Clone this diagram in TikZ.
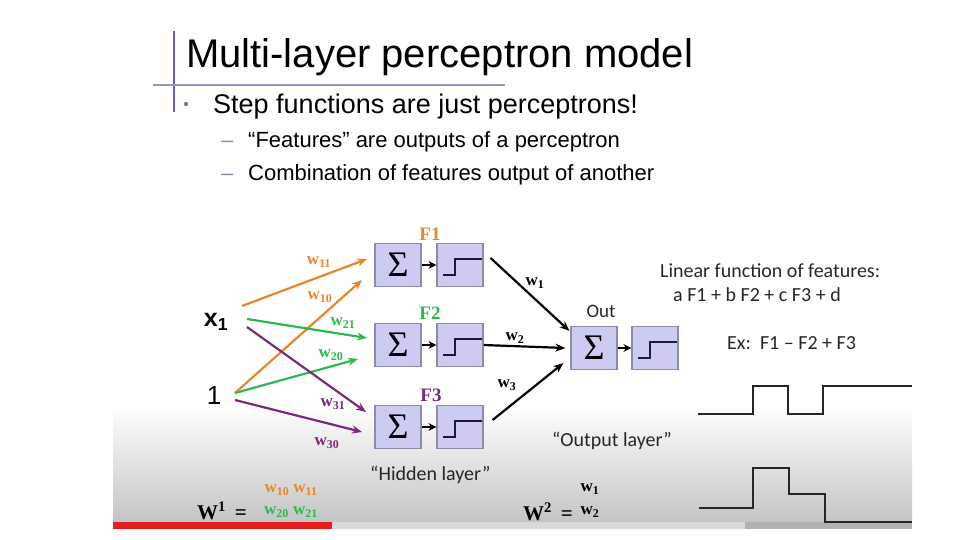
\documentclass[tikz,border=0pt]{standalone}
\usepackage{fontspec}
\setmainfont{Liberation Sans}
\newfontfamily\wf{Liberation Serif}
\newfontfamily\calfont{Carlito}
\usetikzlibrary{arrows.meta}
\definecolor{orng}{HTML}{E8862A}
\definecolor{grn}{HTML}{2DB84C}
\definecolor{prp}{HTML}{7A2A78}
\definecolor{boxfill}{HTML}{CCCCF2}
\definecolor{boxline}{HTML}{8C8CAA}
\definecolor{titleline}{HTML}{6A5CC8}
\definecolor{hline}{HTML}{9A94B8}
\definecolor{bulc}{HTML}{6680AA}
\definecolor{dashc}{HTML}{8090A8}
\definecolor{stepc}{HTML}{1A1A40}
\definecolor{barred}{HTML}{E41E1E}
\tikzset{
  box/.style={draw=boxline, fill=boxfill, line width=1.2pt, minimum width=46pt, minimum height=43pt, inner sep=0pt},
  sig/.style={box, font=\wf\fontsize{36}{36}\selectfont},
  inarrow/.style={line width=2.2pt, -{Stealth[length=10pt,width=8pt]}},
  outarrow/.style={line width=2.2pt, black, -{Stealth[length=10pt,width=8pt]}},
  linkarrow/.style={line width=2.2pt, black, -{Stealth[length=8pt,width=8pt]}},
  stepline/.style={line width=2.4pt, stepc},
  wlab/.style={font=\wf\bfseries\fontsize{17}{17}\selectfont, inner sep=0pt},
  flab/.style={font=\wf\bfseries\fontsize{19}{19}\selectfont, inner sep=0pt},
  caltxt/.style={font=\calfont\fontsize{20}{20}\selectfont, inner sep=0pt, anchor=base west, text=black!85},
  bigw/.style={font=\wf\bfseries\fontsize{21}{21}\selectfont, inner sep=0pt},
}
\begin{document}
\begin{tikzpicture}[x=1pt,y=-1pt]
\useasboundingbox (0,0) rectangle (960,540);
% video overlay band
\shade[top color=white, bottom color=black!23] (113,405) rectangle (912,522);
\fill[black!15] (332,522) rectangle (745,529);
\fill[black!30] (745,522) rectangle (912,529);
\fill[barred] (113,522) rectangle (332,529);
% title
\draw[titleline, line width=2pt] (174,31) -- (174,112);
\draw[hline, line width=2pt] (153,85) -- (505,85);
\node[anchor=base west, inner sep=0pt, font=\fontsize{40}{40}\selectfont] (title) at (186,68) {Multi-layer perceptron model};
\fill[bulc] (186,104) circle (2.2);
\node[anchor=base west, inner sep=0pt, font=\fontsize{27}{27}\selectfont] (b1) at (213,114) {Step functions are just perceptrons!};
\node[anchor=base west, inner sep=0pt, text=dashc, font=\fontsize{22}{22}\selectfont] (d1) at (221,148) {–};
\node[anchor=base west, inner sep=0pt, font=\fontsize{22}{22}\selectfont] (b2) at (248,148) {“Features” are outputs of a perceptron};
\node[anchor=base west, inner sep=0pt, text=dashc, font=\fontsize{22}{22}\selectfont] (d2) at (221,180) {–};
\node[anchor=base west, inner sep=0pt, font=\fontsize{22}{22}\selectfont] (b3) at (248,180) {Combination of features output of another};
% inputs
\node[inner sep=0pt, font=\bfseries\fontsize{25}{25}\selectfont] (x1) at (216,322) {x\textsubscript{1}};
\node[inner sep=0pt, font=\fontsize{26}{26}\selectfont] (one) at (214,396) {1};
% hidden units
\node[sig] (s1) at (398,265) {Σ};
\node[box] (t1) at (460,265) {};
\node[sig] (s2) at (398,345) {Σ};
\node[box] (t2) at (460,345) {};
\node[sig] (s3) at (398,427) {Σ};
\node[box] (t3) at (460,427) {};
\node[sig] (so) at (594,348) {Σ};
\node[box] (to) at (655,348) {};
\foreach \n in {t1,t2,t3,to}
  \draw[stepline] ([shift={(-17pt,-10pt)}]\n.center) -- ++(12pt,0) -- ++(0,16pt) -- ++(27pt,0);
\foreach \a/\b in {s1/t1,s2/t2,s3/t3,so/to}
  \draw[linkarrow] (\a.east) -- (\b.west);
\node[flab, text=orng] (f1) at (430,234) {F1};
\node[flab, text=grn] (f2) at (430,313) {F2};
\node[flab, text=prp] (f3) at (431,395) {F3};
\node[inner sep=0pt, font=\calfont\fontsize{19}{19}\selectfont, text=black!85] (outl) at (601,311) {Out};
% input connectors
\coordinate (xo) at (242,306);
\coordinate (xg) at (247,319);
\coordinate (xp) at (247,327);
\coordinate (oa) at (235,393);
\coordinate (op) at (235,400);
\coordinate (e11) at (367,259);
\coordinate (e10) at (362,280);
\coordinate (e21) at (367,338);
\coordinate (e20) at (358,359);
\coordinate (e31) at (366,412);
\coordinate (e30) at (362,432);
\draw[inarrow, orng] (xo) -- (e11);
\draw[inarrow, orng] (oa) -- (e10);
\draw[inarrow, grn] (xg) -- (e21);
\draw[inarrow, grn] (oa) -- (e20);
\draw[inarrow, prp] (xp) -- (e31);
\draw[inarrow, prp] (op) -- (e30);
\node[wlab, text=orng] (w11) at (319,262) {w\textsubscript{11}};
\node[wlab, text=orng] (w10) at (320,297) {w\textsubscript{10}};
\node[wlab, text=grn] (w21) at (343,323) {w\textsubscript{21}};
\node[wlab, text=grn] (w20) at (331,355) {w\textsubscript{20}};
\node[wlab, text=prp] (w31) at (333,404) {w\textsubscript{31}};
\node[wlab, text=prp] (w30) at (327,443) {w\textsubscript{30}};
% output connectors
\draw[outarrow] ([shift={(7pt,7pt)}]t1.east) -- ([shift={(-1pt,-5pt)}]so.north west);
\draw[outarrow] (t2.east) -- ([xshift=-5pt]so.west);
\draw[outarrow] ([shift={(9pt,7pt)}]t3.east) -- ([shift={(-7pt,7pt)}]so.south west);
\node[wlab] (v1) at (535,283) {w\textsubscript{1}};
\node[wlab] (v2) at (515,338) {w\textsubscript{2}};
\node[wlab] (v3) at (507,385) {w\textsubscript{3}};
% right texts
\node[caltxt] (lin) at (660,277) {Linear function of features:};
\node[caltxt] (lin2) at (673,301) {a F1 + b F2 + c F3 + d};
\node[caltxt] (ex) at (727,349) {Ex:\ \ F1 – F2 + F3};
\node[caltxt] (outlay) at (552,446) {“Output layer”};
\node[caltxt] (hidlay) at (370,480) {“Hidden layer”};
% step plots
\draw[line width=2.4pt, black!85] (698,414) -- (753,414) -- (753,386) -- (788,386) -- (788,414) -- (823,414) -- (823,386) -- (912,386);
\draw[line width=2.4pt, black!85] (699,508) -- (753,508) -- (753,468) -- (789,468) -- (789,494) -- (825,494) -- (825,522) -- (912,522);
% weight matrices
\node[bigw] (W1) at (222,511) {W\textsuperscript{1} \,=};
\node[wlab, text=orng] (m1) at (291,490) {w\textsubscript{10} w\textsubscript{11}};
\node[wlab, text=grn] (m2) at (291,512) {w\textsubscript{20} w\textsubscript{21}};
\node[bigw] (W2) at (548,512) {W\textsuperscript{2} \,=};
\node[wlab] (n1) at (590,489) {w\textsubscript{1}};
\node[wlab] (n2) at (590,512) {w\textsubscript{2}};
\end{tikzpicture}
\end{document}
